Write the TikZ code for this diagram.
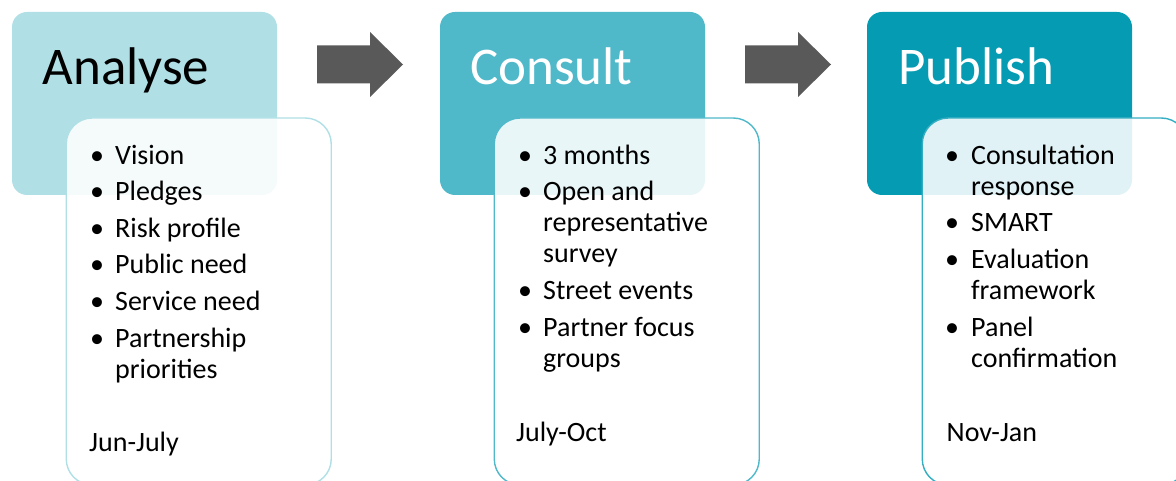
\documentclass[tikz,border=0pt]{standalone}
\usepackage{fontspec}
\setmainfont{Carlito}
\definecolor{cA}{HTML}{B0E0E6}
\definecolor{cB}{HTML}{4FB8C9}
\definecolor{cC}{HTML}{059BB2}
\definecolor{cCline}{HTML}{34AEC2}
\definecolor{arrowgray}{HTML}{595959}
\begin{document}
\begin{tikzpicture}[x=1pt,y=-1pt,
  hdr/.style={rounded corners=15pt, minimum width=265pt, minimum height=183pt, inner sep=0pt, draw=none},
  bodybox/.style={rounded corners=26pt, minimum width=265pt, minimum height=367pt, inner sep=0pt, fill=white, fill opacity=0.88, line width=1.4pt},
  ttl/.style={anchor=base west, inner sep=0pt, font=\fontsize{53}{60}\selectfont},
  itm/.style={anchor=base west, inner sep=0pt, font=\fontsize{28}{31}\selectfont},
  bul/.style={anchor=base, inner sep=0pt, font=\fontsize{28}{31}\selectfont},
  blockarrow/.style={fill=arrowgray}]
\useasboundingbox (0,0) rectangle (1176,481);
\clip (0,0) rectangle (1176,481);

% header boxes
\node[hdr, fill=cA] (hA) at (144.5,103.5) {};
\node[hdr, fill=cB] (hB) at (572.5,103.5) {};
\node[hdr, fill=cC] (hC) at (999.5,103.5) {};

% titles
\node[ttl] (tA) at (42.5,85) {Analyse};
\node[ttl, text=white] (tB) at (470,85) {Consult};
\node[ttl, text=white] (tC) at (898,85) {Publish};

% body boxes
\node[bodybox, draw=cA] (bA) at (198.75,301.5) {};
\node[bodybox, draw=cB] (bB) at (626.75,301.5) {};
\node[bodybox, draw=cCline] (bC) at (1054.75,301.5) {};

% block arrows
\coordinate (ar1) at (317,64.5);
\coordinate (ar2) at (745,64.5);
\fill[blockarrow, shift={(ar1)}] (0,-19) -- (53,-19) -- (53,-32.5) -- (86,0) -- (53,32.5) -- (53,19) -- (0,19) -- cycle;
\fill[blockarrow, shift={(ar2)}] (0,-19) -- (53,-19) -- (53,-32.5) -- (86,0) -- (53,32.5) -- (53,19) -- (0,19) -- cycle;

% Analyse items
\node[bul] (aB1) at (97,164.5) {•};
\node[itm] (a1) at (115,164.5) {Vision};
\node[bul] (aB2) at (97,201) {•};
\node[itm] (a2) at (115,201) {Pledges};
\node[bul] (aB3) at (97,237.5) {•};
\node[itm] (a3) at (115,237.5) {Risk profile};
\node[bul] (aB4) at (97,274) {•};
\node[itm] (a4) at (115,274) {Public need};
\node[bul] (aB5) at (97,310.5) {•};
\node[itm] (a5) at (115,310.5) {Service need};
\node[bul] (aB6) at (97,347) {•};
\node[itm] (a6) at (115,347) {Partnership};
\node[itm] (a7) at (115,378) {priorities};
\node[itm] (aD) at (89,451.5) {Jun-July};

% Consult items
\node[bul] (bB1) at (525,164.5) {•};
\node[itm] (b1) at (543,164.5) {3 months};
\node[bul] (bB2) at (525,201) {•};
\node[itm] (b2) at (543,201) {Open and};
\node[itm] (b3) at (543,232) {representative};
\node[itm] (b4) at (543,263) {survey};
\node[bul] (bB3) at (525,299.5) {•};
\node[itm] (b5) at (543,299.5) {Street events};
\node[bul] (bB4) at (525,336) {•};
\node[itm] (b6) at (543,336) {Partner focus};
\node[itm] (b7) at (543,367) {groups};
\node[itm] (bD) at (516,441.5) {July-Oct};

% Publish items
\node[bul] (cB1) at (952,164.5) {•};
\node[itm] (c1) at (971,164.5) {Consultation};
\node[itm] (c2) at (971,195.5) {response};
\node[bul] (cB2) at (952,232) {•};
\node[itm] (c3) at (971,232) {SMART};
\node[bul] (cB3) at (952,268.5) {•};
\node[itm] (c4) at (971,268.5) {Evaluation};
\node[itm] (c5) at (971,299.5) {framework};
\node[bul] (cB4) at (952,336) {•};
\node[itm] (c6) at (971,336) {Panel};
\node[itm] (c7) at (971,367) {confirmation};
\node[itm] (cD) at (946.5,441.5) {Nov-Jan};
\end{tikzpicture}
\end{document}
